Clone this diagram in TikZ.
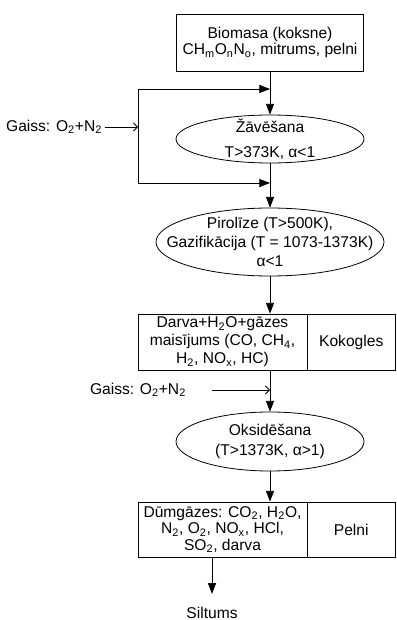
\documentclass[tikz,border=0pt]{standalone}
\usepackage{fontspec}
\setmainfont{Liberation Sans}
\usetikzlibrary{positioning}
\usetikzlibrary{arrows.meta}
\usetikzlibrary{shapes.geometric}
\newcommand{\sub}[1]{\textsubscript{#1}}

\begin{document}
\begin{tikzpicture}[x=0.75pt, y=-0.75pt, line width=0.6pt,
    every node/.style={font=\fontsize{11.7}{12.5}\selectfont, align=center},
    box/.style={draw, rectangle, inner sep=0pt},
    stage/.style={draw, ellipse, inner xsep=-30pt, inner ysep=-10pt},
    flow/.style={-{Triangle[length=8pt, width=6pt]}},
    air/.style={-{Straight Barb[length=3pt, width=6pt]}}]
    \useasboundingbox (0,0) rectangle (396,620);

    % Input
    \node[box, minimum width=187*0.75pt, minimum height=57*0.75pt] (bio) at (270,42.5)
        {Biomasa (koksne)\\CH\sub{m}O\sub{n}N\sub{o}, mitrums, pelni};

    % Drying, pyrolysis and gasification
    \node[stage, minimum width=188*0.75pt, minimum height=48*0.75pt] (zav) at (270,139)
        {Žāvēšana\\[6pt]T>373K, α<1};
    \node[stage, minimum width=228*0.75pt, minimum height=68*0.75pt] (pir) at (270,242)
        {Pirolīze (T>500K),\\[2pt]Gazifikācija (T = 1073-1373K)\\[2pt]α<1};

    % Products
    \node[box, minimum width=169*0.75pt, minimum height=56*0.75pt] (darva) at (222.5,342)
        {Darva+H\sub{2}O+gāzes\\[1pt]maisījums (CO, CH\sub{4},\\[1pt]H\sub{2}, NO\sub{x}, HC)};
    \node[box, minimum width=88.5*0.75pt, minimum height=56*0.75pt] (kok) at (351.25,342) {Kokogles};

    % Oxidation
    \node[stage, minimum width=188*0.75pt, minimum height=59*0.75pt] (oks) at (270,441.5)
        {Oksidēšana\\[2.5pt](T>1373K, α>1)};
    \node[box, minimum width=169*0.75pt, minimum height=55*0.75pt] (dum) at (222.5,529.5)
        {Dūmgāzes: CO\sub{2}, H\sub{2}O,\\N\sub{2}, O\sub{2}, NO\sub{x}, HCl,\\SO\sub{2}, darva};
    \node[box, minimum width=88.5*0.75pt, minimum height=55*0.75pt] (pel) at (351.25,529.5) {Pelni};
    \node[inner sep=13*0.75pt] (silt) at (212,613) {Siltums};

    % Air
    \node[anchor=east, inner sep=1.5pt] (g1) at (104.5,127) {Gaiss: O\sub{2}+N\sub{2}};
    \node[inner sep=0pt] (g2) at (138,390) {Gaiss: O\sub{2}+N\sub{2}};
    \coordinate (lt) at (138,89);
    \coordinate (lb) at (138,183);
    \coordinate (g2s) at (212,390);

    % Connectors
    \draw[air] (g1) -- (g1 -| lt);
    \draw (lt) -- (lb);
    \draw[flow] (lt) -- (lt -| bio.south);
    \draw[flow] (lb) -- (lb -| zav.south);
    \draw[flow] (bio) -- (zav);
    \draw[flow] (zav) -- (pir);
    \draw[flow] (pir.south) -- (pir.south |- darva.north);
    \draw[air] (g2s) -- (g2s -| oks.north);
    \draw[flow] (pir.south |- darva.south) -- (oks);
    \draw[flow] (oks.south) -- (oks.south |- dum.north);
    \draw[flow] (dum.south -| silt) -- (silt);
\end{tikzpicture}
\end{document}
